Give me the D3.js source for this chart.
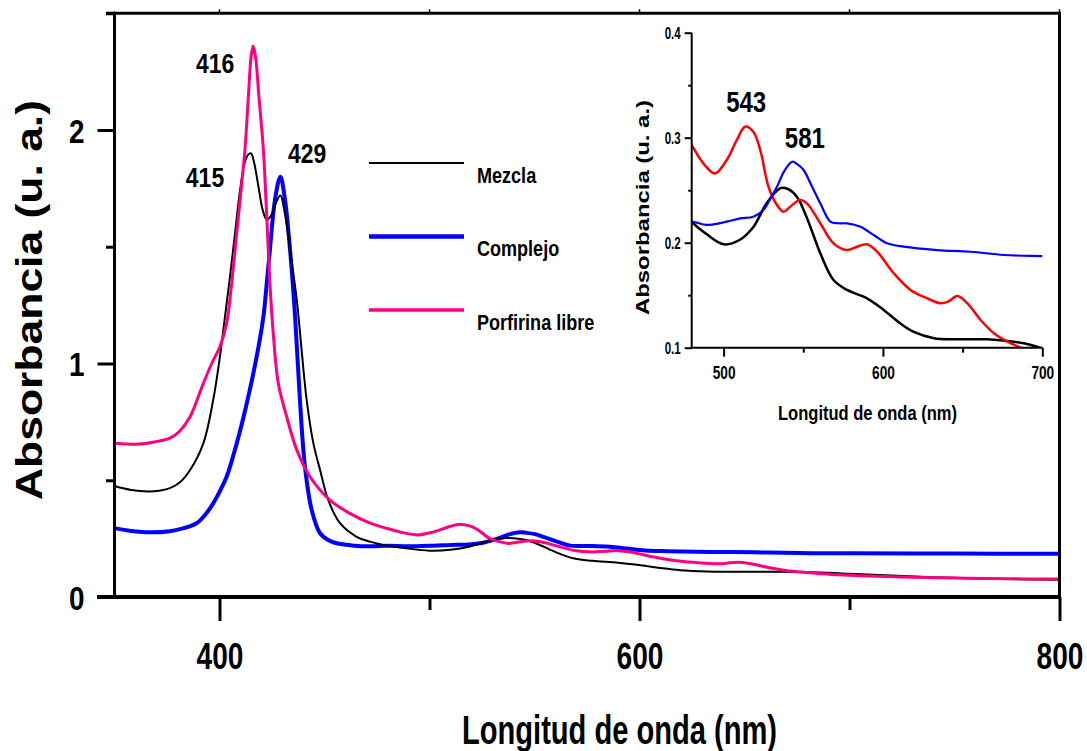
<!DOCTYPE html>
<html>
<head>
<meta charset="utf-8">
<script src="https://cdn.jsdelivr.net/npm/d3@7"></script>
<style>
  html, body { margin: 0; padding: 0; background: #fff; }
  svg { display: block; }
  text { font-family: "Liberation Sans", Arial, sans-serif; font-weight: bold; fill: #000; }
</style>
</head>
<body>
<svg id="chart" width="1087" height="751"></svg>
<script>
// ---- UV-Vis spectra (wavelength in nm, absorbance in a.u.) ----
const mezclaNm  = [350, 358, 366, 372, 376.4, 381, 386, 392.3, 397, 400.2, 402.6, 405, 407.4, 409.8, 412, 413.7, 415, 416.5, 418.5, 420.5, 422.5, 425, 427, 429, 431, 433.6, 436.8, 439.1, 441.5, 444.7, 447.9, 451.8, 457.4, 465.3, 471.7, 480, 489, 500, 510, 518.7, 527, 535.5, 540, 546, 552, 560.7, 569, 577.5, 590, 600.5, 611, 619.4, 632, 644.5, 665.5, 682, 693, 700, 720, 750, 780, 800];
const mezclaAbs = [0.475, 0.458, 0.452, 0.456, 0.466, 0.49, 0.544, 0.658, 0.844, 1.029, 1.20, 1.372, 1.558, 1.743, 1.86, 1.895, 1.90, 1.86, 1.76, 1.66, 1.615, 1.64, 1.69, 1.72, 1.65, 1.486, 1.272, 1.058, 0.844, 0.658, 0.544, 0.415, 0.316, 0.258, 0.237, 0.22, 0.2085, 0.1985, 0.2026, 0.215, 0.2375, 0.2518, 0.2514, 0.2438, 0.2248, 0.19, 0.1645, 0.155, 0.147, 0.136, 0.123, 0.115, 0.109, 0.108, 0.108, 0.1057, 0.1026, 0.0994, 0.092, 0.082, 0.076, 0.074];

const complejoNm  = [350, 358, 367, 376.4, 383, 389.1, 393, 397, 400, 403.4, 408.2, 413, 417.7, 420.9, 422.5, 424, 426.4, 429, 431.2, 433.6, 436, 438.3, 440.7, 443.9, 447.9, 451.5, 455.8, 463, 471.7, 480, 489.4, 502, 510.4, 518.7, 525, 529, 533.5, 538, 543, 546, 550.2, 555, 560.7, 567, 572, 577.5, 585.9, 594.2, 602.6, 613, 634, 655, 676, 700, 750, 800];
const complejoAbs = [0.295, 0.283, 0.277, 0.282, 0.295, 0.316, 0.35, 0.401, 0.45, 0.515, 0.658, 0.83, 1.029, 1.20, 1.343, 1.486, 1.70, 1.80, 1.70, 1.486, 1.20, 0.844, 0.558, 0.373, 0.273, 0.245, 0.23, 0.221, 0.217, 0.22, 0.2169, 0.22, 0.2232, 0.2248, 0.2312, 0.241, 0.2533, 0.268, 0.2771, 0.275, 0.2692, 0.255, 0.2375, 0.22, 0.2185, 0.2184, 0.2152, 0.2073, 0.1994, 0.1962, 0.193, 0.1914, 0.1883, 0.1873, 0.186, 0.185];

const porfirinaNm  = [350, 356, 362, 369, 376.4, 381, 386, 392.3, 396.3, 400.2, 403.4, 405.8, 408.2, 410.6, 412.1, 413.8, 415, 416, 417.2, 418.8, 420.9, 422.5, 424, 425.6, 428, 432, 436.8, 443.1, 452.6, 462.1, 471.7, 478, 480.6, 487.3, 494.6, 502, 508.3, 513.5, 518.7, 523, 528.2, 533.5, 537.6, 541.8, 548.1, 552.3, 560.7, 569, 577.5, 583.8, 590, 596.4, 606.8, 617.3, 627.8, 636.2, 641, 646.7, 653, 661.3, 669.7, 678.1, 686.5, 695, 705, 725, 750, 775, 800];
const porfirinaAbs = [0.66, 0.655, 0.655, 0.664, 0.68, 0.71, 0.772, 0.915, 1.0, 1.072, 1.172, 1.343, 1.558, 1.772, 1.914, 2.15, 2.31, 2.36, 2.31, 2.14, 1.914, 1.629, 1.343, 1.129, 0.915, 0.772, 0.63, 0.515, 0.415, 0.358, 0.316, 0.298, 0.2914, 0.2756, 0.266, 0.2788, 0.2978, 0.3105, 0.3057, 0.2883, 0.2533, 0.2359, 0.2295, 0.2343, 0.2407, 0.2375, 0.2185, 0.1994, 0.193, 0.1962, 0.1985, 0.1914, 0.1709, 0.155, 0.147, 0.1423, 0.144, 0.1492, 0.1423, 0.1264, 0.1137, 0.1057, 0.100, 0.095, 0.091, 0.086, 0.081, 0.078, 0.077];

const seriesNames = ["Mezcla", "Complejo", "Porfirina libre"];

// axes
const mainXMajor = [400, 600, 800];
const mainXMinor = [500, 700];
const mainYMajor = [0, 1, 2];
const mainYMinor = [0.5, 1.5, 2.5];
const insetXMajor = [500, 600, 700];
const insetXMinor = [550, 650];
const insetYMajor = [0.1, 0.2, 0.3, 0.4];
const insetYMinor = [0.15, 0.25, 0.35];

// peak annotations: [text, wavelength, absorbance of the label baseline]
const mainPeakNotes  = [["416", 397.9, 2.244], ["415", 393.1, 1.756], ["429", 441.7, 1.859]];
const insetPeakNotes = [["543", 514.2, 0.3245], ["581", 551.0, 0.290]];

const svg = d3.select("#chart");

// squeeze text horizontally (narrow bold face) or stretch it to a fixed length
function fitWidth(sel, ratio) {
  sel.each(function () {
    const w = this.getComputedTextLength();
    d3.select(this).attr("textLength", w * ratio).attr("lengthAdjust", "spacingAndGlyphs");
  });
}
function fixLength(sel, len) {
  sel.attr("textLength", len).attr("lengthAdjust", "spacingAndGlyphs");
}

const toPoints = (nm, abs) => nm.map((v, i) => [v, abs[i]]);
const mezcla = toPoints(mezclaNm, mezclaAbs);
const complejo = toPoints(complejoNm, complejoAbs);
const porfirina = toPoints(porfirinaNm, porfirinaAbs);

const smooth = d3.curveCatmullRom.alpha(0.5);

// ================= main plot =================
const M = { left: 114.5, right: 1059.5, top: 13.25, bottom: 597 };
const x = d3.scaleLinear().domain([350, 800]).range([M.left, M.right]);
const y = d3.scaleLinear().domain([0, 2.5]).range([M.bottom, M.top]);

const main = svg.append("g");

const lineMain = d3.line().x(d => x(d[0])).y(d => y(d[1])).curve(smooth);

main.append("path").datum(complejo).attr("d", lineMain)
  .attr("fill", "none").attr("stroke", "#0000ff").attr("stroke-width", 4).attr("stroke-linejoin", "round");
main.append("path").datum(mezcla).attr("d", lineMain)
  .attr("fill", "none").attr("stroke", "#000").attr("stroke-width", 2).attr("stroke-linejoin", "round");
main.append("path").datum(porfirina).attr("d", lineMain)
  .attr("fill", "none").attr("stroke", "#ff0080").attr("stroke-width", 3).attr("stroke-linejoin", "round");

// frame: top and right
main.append("line").attr("x1", 106).attr("x2", M.right + 1.5).attr("y1", M.top).attr("y2", M.top)
  .attr("stroke", "#000").attr("stroke-width", 3);
main.append("line").attr("x1", M.right).attr("x2", M.right).attr("y1", M.top).attr("y2", M.bottom)
  .attr("stroke", "#000").attr("stroke-width", 3);
// small ticks on the top edge
main.selectAll(".topTick").data(mainXMajor.concat(mainXMinor)).join("line")
  .attr("x1", d => x(d)).attr("x2", d => x(d)).attr("y1", M.top - 4).attr("y2", M.top)
  .attr("stroke", "#000").attr("stroke-width", 1.5);

// y axis
const yMajor = main.append("g").attr("transform", `translate(${M.left},0)`)
  .call(d3.axisLeft(y).tickValues(mainYMajor).tickFormat(d3.format("d")).tickSize(17).tickSizeOuter(0).tickPadding(13));
const yMinor = main.append("g").attr("transform", `translate(${M.left},0)`)
  .call(d3.axisLeft(y).tickValues(mainYMinor).tickFormat("").tickSize(8.5).tickSizeOuter(0));
[yMajor, yMinor].forEach(g => {
  g.select(".domain").remove();
  g.selectAll(".tick line").attr("stroke", "#000").attr("stroke-width", 3);
});
main.append("line").attr("x1", M.left).attr("x2", M.left).attr("y1", M.top - 1.5).attr("y2", M.bottom)
  .attr("stroke", "#000").attr("stroke-width", 3);
yMajor.selectAll(".tick text").attr("font-size", 34).attr("fill", "#000").attr("dy", "0.36em")
  .style("font-family", "'Liberation Sans', Arial, sans-serif").style("font-weight", "bold")
  .call(fitWidth, 0.82);

// x axis
const xMajor = main.append("g").attr("transform", `translate(0,${M.bottom})`)
  .call(d3.axisBottom(x).tickValues(mainXMajor).tickFormat(d3.format("d")).tickSize(24).tickSizeOuter(0).tickPadding(22));
const xMinor = main.append("g").attr("transform", `translate(0,${M.bottom})`)
  .call(d3.axisBottom(x).tickValues(mainXMinor).tickFormat("").tickSize(13).tickSizeOuter(0));
[xMajor, xMinor].forEach(g => {
  g.select(".domain").remove();
  g.selectAll(".tick line").attr("stroke", "#000").attr("stroke-width", 3);
});
main.append("line").attr("x1", 97).attr("x2", M.right + 1.5).attr("y1", M.bottom).attr("y2", M.bottom)
  .attr("stroke", "#000").attr("stroke-width", 4);
// narrow labels: horizontal scale about each tick's centre
xMajor.selectAll(".tick text").attr("font-size", 37).attr("fill", "#000")
  .style("font-family", "'Liberation Sans', Arial, sans-serif").style("font-weight", "bold")
  .attr("transform", "scale(0.76,1)");

// axis titles
main.append("text").attr("x", 619.5).attr("y", 744).attr("text-anchor", "middle")
  .attr("font-size", 40).text("Longitud de onda (nm)").call(fixLength, 315);
main.append("text").attr("transform", "translate(42,300) rotate(-90)").attr("text-anchor", "middle")
  .attr("font-size", 37.5).text("Absorbancia (u. a.)").call(fixLength, 400);

// peak labels
main.selectAll(".peak").data(mainPeakNotes).join("text")
  .attr("x", d => x(d[1])).attr("y", d => y(d[2])).attr("text-anchor", "middle")
  .attr("font-size", 28).text(d => d[0]).call(fitWidth, 0.82);

// legend
const legendStyles = [
  { color: "#000", width: 2 },
  { color: "#0000ff", width: 4.5 },
  { color: "#ff0080", width: 3.5 }
];
const legend = main.append("g").attr("transform", "translate(369,163)");
const rows = legend.selectAll(".row").data(seriesNames).join("g")
  .attr("transform", (d, i) => `translate(0,${i * 73.5})`);
rows.append("line").attr("x1", 0).attr("x2", 95).attr("y1", 0).attr("y2", 0)
  .attr("stroke", (d, i) => legendStyles[i].color).attr("stroke-width", (d, i) => legendStyles[i].width);
rows.append("text").attr("x", 108).attr("y", 19.5).attr("font-size", 22).text(d => d)
  .call(fitWidth, 0.82);

// ================= inset =================
const I = { left: 691.7, right: 1042.3, top: 32.7, bottom: 347.7 };
const xi = d3.scaleLinear().domain([480, 700]).range([I.left, I.right]);
const yi = d3.scaleLinear().domain([0.1, 0.4]).range([I.bottom, I.top]);
const inset = svg.append("g");

inset.append("clipPath").attr("id", "insetClip").append("rect")
  .attr("x", I.left).attr("y", I.top - 2).attr("width", I.right - I.left).attr("height", I.bottom - I.top + 2);

const lineInset = d3.line().x(d => xi(d[0])).y(d => yi(d[1])).curve(smooth);
const insetLines = inset.append("g").attr("clip-path", "url(#insetClip)");
insetLines.append("path").datum(mezcla).attr("d", lineInset)
  .attr("fill", "none").attr("stroke", "#000").attr("stroke-width", 2.5);
insetLines.append("path").datum(porfirina).attr("d", lineInset)
  .attr("fill", "none").attr("stroke", "#ff0000").attr("stroke-width", 2.5);
insetLines.append("path").datum(complejo).attr("d", lineInset)
  .attr("fill", "none").attr("stroke", "#0000ff").attr("stroke-width", 2.2);

const yiMajor = inset.append("g").attr("transform", `translate(${I.left},0)`)
  .call(d3.axisLeft(yi).tickValues(insetYMajor).tickFormat(d3.format(".1f")).tickSize(7).tickSizeOuter(0).tickPadding(4));
const yiMinor = inset.append("g").attr("transform", `translate(${I.left},0)`)
  .call(d3.axisLeft(yi).tickValues(insetYMinor).tickFormat("").tickSize(3.5).tickSizeOuter(0));
const xiMajor = inset.append("g").attr("transform", `translate(0,${I.bottom})`)
  .call(d3.axisBottom(xi).tickValues(insetXMajor).tickFormat(d3.format("d")).tickSize(9).tickSizeOuter(0).tickPadding(10));
const xiMinor = inset.append("g").attr("transform", `translate(0,${I.bottom})`)
  .call(d3.axisBottom(xi).tickValues(insetXMinor).tickFormat("").tickSize(5).tickSizeOuter(0));
[yiMajor, yiMinor, xiMajor, xiMinor].forEach(g => {
  g.select(".domain").remove();
  g.selectAll(".tick line").attr("stroke", "#000").attr("stroke-width", 2);
});
inset.append("line").attr("x1", I.left).attr("x2", I.left).attr("y1", I.top).attr("y2", I.bottom + 1)
  .attr("stroke", "#000").attr("stroke-width", 2);
inset.append("line").attr("x1", I.left - 1).attr("x2", I.right).attr("y1", I.bottom).attr("y2", I.bottom)
  .attr("stroke", "#000").attr("stroke-width", 2);
yiMajor.selectAll(".tick text").attr("font-size", 16.5).attr("fill", "#000").attr("dy", "0.36em")
  .style("font-family", "'Liberation Sans', Arial, sans-serif").style("font-weight", "bold")
  .call(fitWidth, 0.7);
xiMajor.selectAll(".tick text").attr("font-size", 17.5).attr("fill", "#000")
  .style("font-family", "'Liberation Sans', Arial, sans-serif").style("font-weight", "bold")
  .call(fitWidth, 0.78);

inset.append("text").attr("x", 867.5).attr("y", 420).attr("text-anchor", "middle")
  .attr("font-size", 21).text("Longitud de onda (nm)").call(fixLength, 179);
inset.append("text").attr("transform", "translate(648.5,207.5) rotate(-90)").attr("text-anchor", "middle")
  .attr("font-size", 18).text("Absorbancia (u. a.)").call(fixLength, 215);

inset.selectAll(".peak").data(insetPeakNotes).join("text")
  .attr("x", d => xi(d[1])).attr("y", d => yi(d[2])).attr("text-anchor", "middle")
  .attr("font-size", 30).text(d => d[0]).call(fitWidth, 0.8);
</script>
</body>
</html>
